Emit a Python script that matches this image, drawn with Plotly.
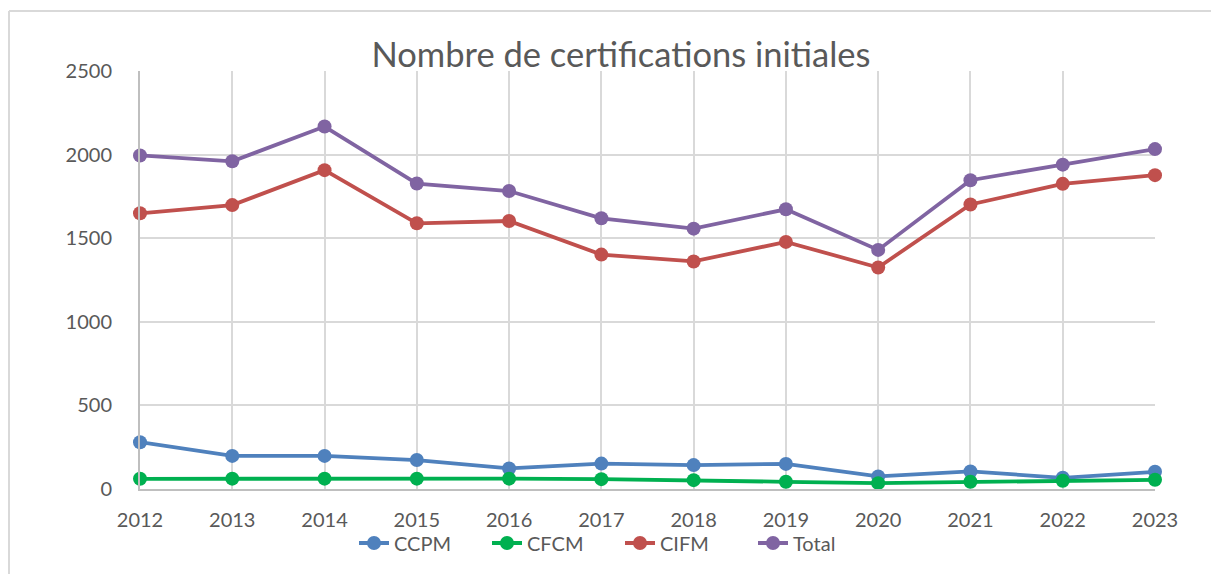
import plotly.graph_objects as go

years = [2012, 2013, 2014, 2015, 2016, 2017, 2018, 2019, 2020, 2021, 2022, 2023]
ccpm = [280, 198, 198, 173, 123, 152, 143, 150, 75, 105, 67, 103]
cfcm = [61, 62, 62, 62, 62, 59, 53, 43, 35, 43, 49, 55]
cifm = [1649, 1698, 1907, 1589, 1603, 1402, 1361, 1478, 1325, 1702, 1825, 1877]
total = [1995, 1960, 2168, 1827, 1782, 1619, 1557, 1673, 1430, 1847, 1940, 2033]

series_names = ["CCPM", "CFCM", "CIFM", "Total"]
series_values = [ccpm, cfcm, cifm, total]
series_colors = ["#4F81BD", "#00B050", "#C0504D", "#8064A2"]

FONT = "Lato"
TXT = "#595959"

fig = go.Figure()
for name, vals, col in zip(series_names, series_values, series_colors):
    fig.add_trace(go.Scatter(
        x=years, y=vals, name=name, mode="lines+markers",
        line=dict(color=col, width=3.8),
        marker=dict(color=col, size=14),
        cliponaxis=False,
    ))

# page body adds an 8px offset; figure is sized so the screenshot matches
OFF = 8
W, H = 1219 - OFF, 574 - OFF
L, R, T, B = 140 - OFF, 64, 71 - OFF, 85
pw = W - L - R
ph = H - T - B

def px2x(px):
    return (px - OFF - L) / pw

def py2y(py):
    return (H - B - (py - OFF)) / ph

fig.update_layout(
    width=W, height=H,
    margin=dict(l=L, r=R, t=T, b=B),
    paper_bgcolor="white", plot_bgcolor="white",
    font=dict(family=FONT, color=TXT, size=20),
    title=dict(text="Nombre de certifications initiales",
               x=(621 - OFF) / W, xanchor="center", xref="container",
               y=1 - (55 - OFF) / H, yanchor="middle",
               font=dict(family=FONT, size=34.5, color=TXT)),
    xaxis=dict(range=[2012, 2023], tickmode="array", tickvals=years,
               ticktext=[str(y) for y in years],
               showgrid=True, gridcolor="#D9D9D9", gridwidth=2,
               showline=True, linecolor="#BFBFBF", linewidth=2,
               zeroline=False, ticks="", ticklabelstandoff=12,
               tickfont=dict(size=20, color=TXT)),
    yaxis=dict(range=[0, 2500], tickmode="array",
               tickvals=[0, 500, 1000, 1500, 2000, 2500],
               showgrid=True, gridcolor="#D9D9D9", gridwidth=2,
               showline=True, linecolor="#BFBFBF", linewidth=2,
               zeroline=False, ticks="", ticklabelstandoff=22,
               tickfont=dict(size=20, color=TXT)),
    legend=dict(orientation="h", x=px2x(620), xanchor="center",
                y=py2y(543), yanchor="middle",
                font=dict(size=20, color=TXT),
                entrywidth=88, entrywidthmode="pixels",
                tracegroupgap=0, bgcolor="rgba(0,0,0,0)"),
    showlegend=True,
)

# outer frame of the chart object (top and left edges visible)
fig.add_shape(type="line", xref="paper", yref="paper",
              x0=px2x(9), x1=px2x(1230), y0=py2y(11), y1=py2y(11),
              line=dict(color="#D9D9D9", width=2))
fig.add_shape(type="line", xref="paper", yref="paper",
              x0=px2x(9), x1=px2x(9), y0=py2y(11), y1=py2y(590),
              line=dict(color="#D9D9D9", width=2))

fig.write_html("out.html")
